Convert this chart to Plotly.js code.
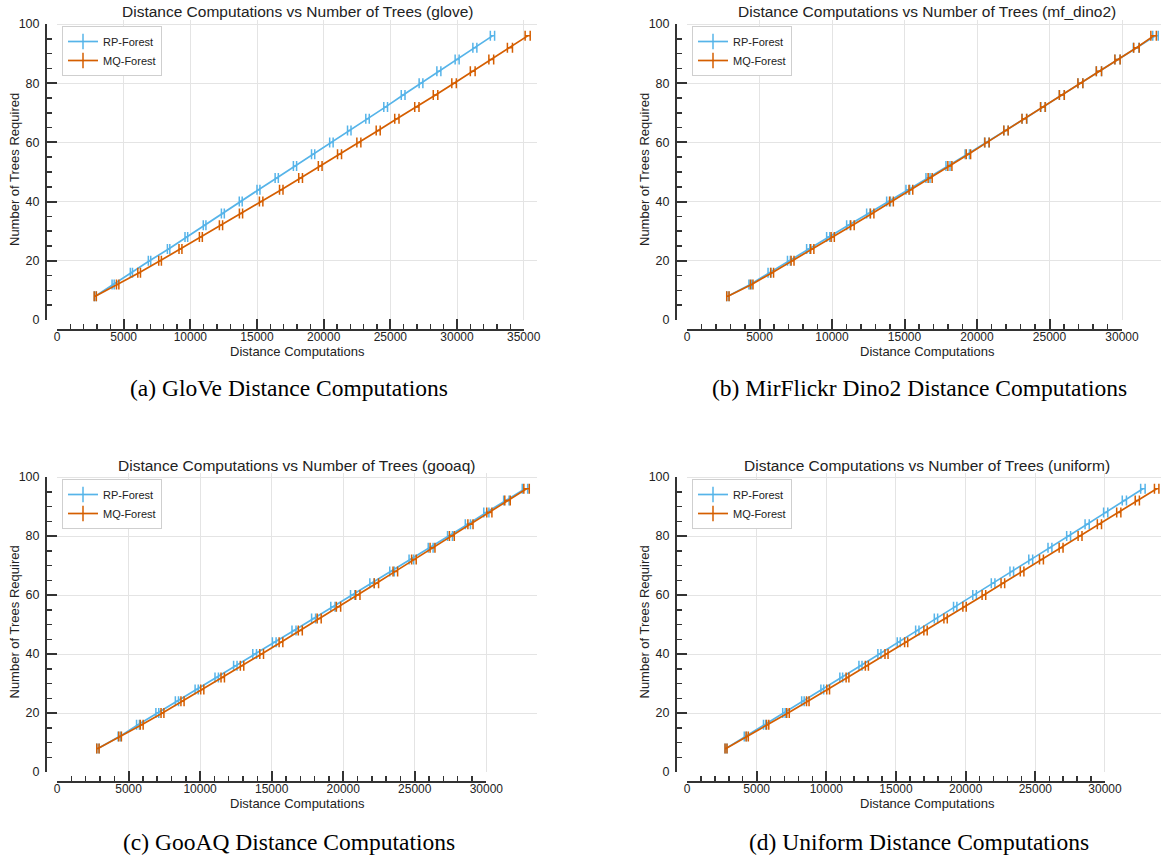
<!DOCTYPE html>
<html>
<head>
<meta charset="utf-8">
<script src="https://cdn.plot.ly/plotly-3.0.1.min.js"></script>
<style>
html,body{margin:0;padding:0;background:#fff;}
#chart{width:1161px;height:856px;}
</style>
</head>
<body>
<div id="chart"></div>
<script>
// ---------------- data ----------------
const treeCounts = [8,12,16,20,24,28,32,36,40,44,48,52,56,60,64,68,72,76,80,84,88,92,96];

const gloveRP = [2870,4210,5580,6940,8370,9700,11070,12440,13780,15110,16480,17850,19210,20580,21920,23290,24650,25960,27300,28640,30010,31340,32660];
const gloveMQ = [2870,4550,6160,7730,9260,10790,12300,13800,15310,16820,18270,19740,21190,22640,24090,25490,26990,28390,29780,31180,32570,33970,35300];

const dinoRP = [2820,4360,5690,7030,8360,9740,11130,12510,13900,15230,16620,18000,19330,20670,22000,23280,24560,25850,27130,28410,29690,30970,32310];
const dinoMQ = [2820,4460,5870,7280,8640,10050,11410,12770,14100,15440,16770,18130,19410,20690,22000,23260,24540,25850,27130,28410,29690,31000,32180];

const gooaqRP = [2860,4360,5660,7010,8380,9760,11160,12460,13810,15180,16560,17930,19280,20660,22010,23410,24760,26110,27460,28710,30000,31400,32700];
const gooaqMQ = [2860,4410,5920,7370,8770,10150,11580,12930,14300,15650,17000,18320,19670,21020,22320,23640,24940,26240,27590,28890,30210,31480,32810];

const uniformRP = [2800,4190,5570,6960,8320,9710,11070,12450,13810,15200,16530,17870,19250,20640,21970,23310,24670,26050,27390,28720,30050,31390,32720];
const uniformMQ = [2800,4320,5790,7250,8670,10130,11520,12910,14320,15730,17120,18560,19920,21310,22670,24050,25440,26850,28210,29600,30990,32320,33710];

// horizontal error (std) of distance computations
const gloveRPerr   = [70,80,80,90,90,100,100,110,110,110,120,120,120,130,130,130,140,140,140,150,150,150,160];
const gloveMQerr   = [80,90,100,100,110,110,120,120,130,130,140,140,150,150,150,160,160,170,170,180,180,190,190];
const dinoRPerr    = [80,90,100,100,110,110,120,120,130,130,140,140,150,150,150,160,160,170,170,180,180,190,190];
const dinoMQerr    = [80,90,100,100,110,110,120,120,130,130,140,140,150,150,150,160,160,170,170,180,180,190,190];
const gooaqRPerr   = [80,90,100,100,110,110,120,120,130,130,140,140,150,150,150,160,160,170,170,180,180,190,190];
const gooaqMQerr   = [80,90,100,100,110,110,120,120,130,130,140,140,150,150,150,160,160,170,170,180,180,190,190];
const uniformRPerr = [70,80,80,90,90,100,100,110,110,110,120,120,120,130,130,130,140,140,140,150,150,150,160];
const uniformMQerr = [70,80,80,90,90,100,100,110,110,110,120,120,120,130,130,130,140,140,140,150,150,150,160];

const seriesNames = ['RP-Forest','MQ-Forest'];
const datasetNames = ['glove','mf_dino2','gooaq','uniform'];
const captions = ['(a) GloVe Distance Computations','(b) MirFlickr Dino2 Distance Computations','(c) GooAQ Distance Computations','(d) Uniform Distance Computations'];
const xTitle = 'Distance Computations';
const yTitle = 'Number of Trees Required';

const panelSeries = [
  [gloveRP, gloveMQ, gloveRPerr, gloveMQerr],
  [dinoRP, dinoMQ, dinoRPerr, dinoMQerr],
  [gooaqRP, gooaqMQ, gooaqRPerr, gooaqMQerr],
  [uniformRP, uniformMQ, uniformRPerr, uniformMQerr]
];

// ---------------- layout geometry (pixels) ----------------
const W = 1161, H = 856;
const fx = p => p / W;
const fy = p => 1 - p / H;
const colors = ['#56B4E9', '#D55E00'];
const dark = '#333333';
const textColor = '#222222';
const sans = 'Liberation Sans, Arial, sans-serif';
const serif = 'Liberation Serif, Times New Roman, serif';

const panels = [
  {left:57,  right:537,  xMax:36000, xTrim:35000, top:20,  y0:320, y100:24,  spineX:46,  spineY:330, titleX:297, titleY:12,  xtY:351, ytX:14,  capX:289, capY:388},
  {left:687, right:1161, xMax:32690, xTrim:30000, top:20,  y0:320, y100:24,  spineX:676, spineY:330, titleX:927, titleY:12,  xtY:351, ytX:644, capX:919, capY:388},
  {left:57,  right:537,  xMax:33540, xTrim:30000, top:473, y0:772, y100:477, spineX:46,  spineY:782, titleX:297, titleY:465, xtY:803, ytX:14,  capX:289, capY:842},
  {left:687, right:1161, xMax:34020, xTrim:30000, top:473, y0:772, y100:477, spineX:676, spineY:782, titleX:927, titleY:465, xtY:803, ytX:644, capX:919, capY:842}
];

const traces = [];
const layout = {
  width: W, height: H,
  margin: {l:0, r:0, t:0, b:0, pad:0},
  paper_bgcolor: '#ffffff',
  plot_bgcolor: 'rgba(0,0,0,0)',
  showlegend: true,
  font: {family: sans, color: textColor, size: 12},
  annotations: []
};

panels.forEach((p, i) => {
  const n = i + 1;
  const sfx = n === 1 ? '' : String(n);
  const tn = i + 5;
  const yPerUnit = (p.y0 - p.y100) / 100;
  const yMax = (p.y0 - p.top) / yPerUnit;
  const trimRight = p.left + (p.xTrim / p.xMax) * (p.right - p.left);
  const legName = n === 1 ? 'legend' : 'legend' + n;

  // data axes (grid only)
  layout['xaxis' + sfx] = {
    domain: [fx(p.left), fx(p.right)], range: [0, p.xMax], autorange: false,
    anchor: 'y' + sfx, showline: false, ticks: '', showticklabels: false,
    showgrid: true, gridcolor: '#e4e4e4', gridwidth: 1, tick0: 0, dtick: 5000,
    zeroline: false, fixedrange: true
  };
  layout['yaxis' + sfx] = {
    domain: [fy(p.y0), fy(p.top)], range: [0, yMax], autorange: false,
    anchor: 'x' + sfx, showline: false, ticks: '', showticklabels: false,
    showgrid: true, gridcolor: '#e4e4e4', gridwidth: 1, tick0: 0, dtick: 20,
    zeroline: false, fixedrange: true
  };
  // trimmed, offset spines with ticks
  layout['xaxis' + tn] = {
    domain: [fx(p.left), fx(trimRight)], range: [0, p.xTrim], autorange: false,
    anchor: 'free', position: fy(p.spineY),
    showline: true, linecolor: dark, linewidth: 2,
    ticks: 'inside', ticklen: 10, tickwidth: 2, tickcolor: dark,
    tick0: 0, dtick: 5000, tickformat: 'd', ticklabelstandoff: -4,
    showgrid: false, zeroline: false,
    tickfont: {family: sans, size: 12, color: textColor},
    minor: {ticks: 'inside', ticklen: 5, tickwidth: 1.5, tickcolor: dark, dtick: 1000, showgrid: false},
    fixedrange: true
  };
  layout['yaxis' + tn] = {
    domain: [fy(p.y0), fy(p.y100)], range: [0, 100], autorange: false,
    anchor: 'free', position: fx(p.spineX),
    showline: true, linecolor: dark, linewidth: 2,
    ticks: 'inside', ticklen: 10, tickwidth: 2, tickcolor: dark,
    tick0: 0, dtick: 20, tickformat: 'd', ticklabelstandoff: 3,
    showgrid: false, zeroline: false,
    tickfont: {family: sans, size: 12.5, color: textColor},
    minor: {ticks: 'inside', ticklen: 5, tickwidth: 1.5, tickcolor: dark, dtick: 5, showgrid: false},
    fixedrange: true
  };

  layout[legName] = {
    x: fx(p.left + 5), y: fy(p.top + 6), xanchor: 'left', yanchor: 'top',
    bgcolor: '#ffffff', bordercolor: '#cfcfcf', borderwidth: 1,
    font: {family: sans, size: 11, color: textColor},
    tracegroupgap: 0
  };

  const s = panelSeries[i];
  [0, 1].forEach(k => {
    traces.push({
      type: 'scatter', mode: 'lines',
      x: s[k], y: treeCounts,
      xaxis: 'x' + sfx, yaxis: 'y' + sfx,
      line: {color: colors[k], width: 1.7},
      error_x: {type: 'data', array: s[k + 2], visible: true, color: colors[k], thickness: 1.5, width: 5},
      showlegend: false, hoverinfo: 'x+y', name: seriesNames[k]
    });
  });
  // legend entries (no data), attached to the spine axes
  [0, 1].forEach(k => {
    traces.push({
      type: 'scatter', mode: 'lines+markers',
      x: [null], y: [null],
      xaxis: 'x' + tn, yaxis: 'y' + tn,
      name: seriesNames[k], legend: legName, showlegend: true,
      line: {color: colors[k], width: 1.7},
      marker: {symbol: 'line-ns-open', size: 11, color: colors[k], line: {color: colors[k], width: 1.5}},
      hoverinfo: 'skip'
    });
  });

  const ann = layout.annotations;
  ann.push({xref:'paper', yref:'paper', x: fx(p.titleX), y: fy(p.titleY), xanchor:'center', yanchor:'middle', showarrow:false,
            text: 'Distance Computations vs Number of Trees (' + datasetNames[i] + ')', font:{family: sans, size: 15.5, color: textColor}});
  ann.push({xref:'paper', yref:'paper', x: fx(p.titleX), y: fy(p.xtY), xanchor:'center', yanchor:'middle', showarrow:false,
            text: xTitle, font:{family: sans, size: 13, color: textColor}});
  ann.push({xref:'paper', yref:'paper', x: fx(p.ytX), y: fy((p.top + p.y0) / 2), xanchor:'center', yanchor:'middle', showarrow:false,
            textangle: -90, text: yTitle, font:{family: sans, size: 13, color: textColor}});
  ann.push({xref:'paper', yref:'paper', x: fx(p.capX), y: fy(p.capY), xanchor:'center', yanchor:'middle', showarrow:false,
            text: captions[i], font:{family: serif, size: 23.5, color: '#000000'}});
});

Plotly.newPlot('chart', traces, layout, {staticPlot: true, displayModeBar: false});
</script>
</body>
</html>
